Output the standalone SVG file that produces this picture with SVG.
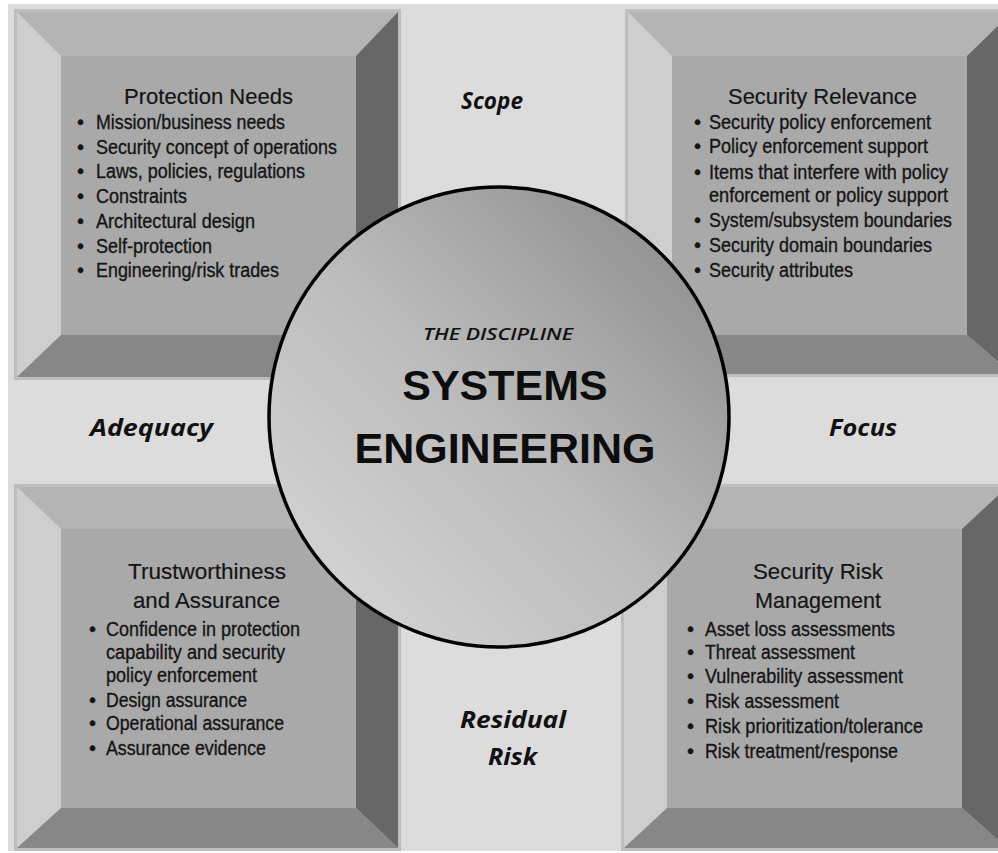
<svg xmlns="http://www.w3.org/2000/svg" width="998" height="853" viewBox="0 0 998 853">
<defs>
<linearGradient id="disc" x1="0" y1="1" x2="1" y2="0">
<stop offset="0" stop-color="#dadada"/>
<stop offset="0.5" stop-color="#bababa"/>
<stop offset="1" stop-color="#858585"/>
</linearGradient>
<style>
.rim{fill:#bdbdbd}
.bt{fill:#b4b4b4}
.bl{fill:#cecece}
.br{fill:#676767}
.bb{fill:#878787}
.face{fill:#a9a9a9}
.ttl{font-family:"Liberation Sans",Arial,sans-serif;font-size:22.5px;fill:#151515;stroke:#151515;stroke-width:0.2}
.itm{font-family:"Liberation Sans",Arial,sans-serif;font-size:20px;fill:#151515;stroke:#151515;stroke-width:0.35}
.lbl{font-family:"Open Sans","DejaVu Sans",sans-serif;font-style:italic;font-weight:700;font-size:24px;fill:#111}
.big{font-family:"Liberation Sans",Arial,sans-serif;font-weight:bold;font-size:43px;fill:#0d0d0d;text-anchor:middle}
.sub{font-family:"Open Sans","DejaVu Sans",sans-serif;font-style:italic;font-weight:600;font-size:17px;fill:#111}
</style>
</defs>
<rect x="0" y="0" width="998" height="853" fill="#ffffff"/>
<rect x="8" y="4" width="990" height="847" fill="#dcdcdc"/>

<g id="protection-needs">
<rect class="rim" x="14" y="9" width="387" height="371"/>
<polygon class="bt" points="17,12 398,12 356,56 61,56"/>
<polygon class="bl" points="17,12 61,56 61,335 17,377"/>
<polygon class="br" points="398,12 398,377 356,335 356,56"/>
<polygon class="bb" points="17,377 61,335 356,335 398,377"/>
<rect class="face" x="61" y="56" width="295" height="279"/>
<text class="ttl" x="124" y="104" textLength="169" lengthAdjust="spacingAndGlyphs">Protection Needs</text>
<g class="itm">
<text x="77" y="129">•</text><text x="96" y="129" textLength="189" lengthAdjust="spacingAndGlyphs">Mission/business needs</text>
<text x="77" y="154">•</text><text x="96" y="154" textLength="241" lengthAdjust="spacingAndGlyphs">Security concept of operations</text>
<text x="77" y="178">•</text><text x="96" y="178" textLength="209" lengthAdjust="spacingAndGlyphs">Laws, policies, regulations</text>
<text x="77" y="203">•</text><text x="96" y="203" textLength="91" lengthAdjust="spacingAndGlyphs">Constraints</text>
<text x="77" y="228">•</text><text x="96" y="228" textLength="159" lengthAdjust="spacingAndGlyphs">Architectural design</text>
<text x="77" y="253">•</text><text x="96" y="253" textLength="116" lengthAdjust="spacingAndGlyphs">Self-protection</text>
<text x="77" y="277">•</text><text x="96" y="277" textLength="183" lengthAdjust="spacingAndGlyphs">Engineering/risk trades</text>
</g>
</g>

<g id="security-relevance">
<rect class="rim" x="625" y="9" width="390" height="368"/>
<polygon class="bt" points="628,12 1012,12 967,56 672,56"/>
<polygon class="bl" points="628,12 672,56 672,335 628,374"/>
<polygon class="br" points="1012,12 1012,374 967,335 967,56"/>
<polygon class="bb" points="628,374 672,335 967,335 1012,374"/>
<rect class="face" x="672" y="56" width="295" height="279"/>
<text class="ttl" x="728" y="104" textLength="189" lengthAdjust="spacingAndGlyphs">Security Relevance</text>
<g class="itm">
<text x="694" y="129">•</text><text x="709" y="129" textLength="222" lengthAdjust="spacingAndGlyphs">Security policy enforcement</text>
<text x="694" y="153">•</text><text x="709" y="153" textLength="219" lengthAdjust="spacingAndGlyphs">Policy enforcement support</text>
<text x="694" y="179">•</text><text x="709" y="179" textLength="239" lengthAdjust="spacingAndGlyphs">Items that interfere with policy</text>
<text x="709" y="202" textLength="239" lengthAdjust="spacingAndGlyphs">enforcement or policy support</text>
<text x="694" y="227">•</text><text x="709" y="227" textLength="243" lengthAdjust="spacingAndGlyphs">System/subsystem boundaries</text>
<text x="694" y="252">•</text><text x="709" y="252" textLength="223" lengthAdjust="spacingAndGlyphs">Security domain boundaries</text>
<text x="694" y="277">•</text><text x="709" y="277" textLength="144" lengthAdjust="spacingAndGlyphs">Security attributes</text>
</g>
</g>

<g id="trustworthiness-assurance">
<rect class="rim" x="14" y="484" width="387" height="367"/>
<polygon class="bt" points="17,487 398,487 356,529 61,529"/>
<polygon class="bl" points="17,487 61,529 61,808 17,848"/>
<polygon class="br" points="398,487 398,848 356,808 356,529"/>
<polygon class="bb" points="17,848 61,808 356,808 398,848"/>
<rect class="face" x="61" y="529" width="295" height="279"/>
<text class="ttl" x="128" y="579" textLength="158" lengthAdjust="spacingAndGlyphs">Trustworthiness</text>
<text class="ttl" x="133" y="608" textLength="147" lengthAdjust="spacingAndGlyphs">and Assurance</text>
<g class="itm">
<text x="89" y="636">•</text><text x="106" y="636" textLength="194" lengthAdjust="spacingAndGlyphs">Confidence in protection</text>
<text x="106" y="659" textLength="179" lengthAdjust="spacingAndGlyphs">capability and security</text>
<text x="106" y="682" textLength="151" lengthAdjust="spacingAndGlyphs">policy enforcement</text>
<text x="89" y="707">•</text><text x="106" y="707" textLength="141" lengthAdjust="spacingAndGlyphs">Design assurance</text>
<text x="89" y="730">•</text><text x="106" y="730" textLength="178" lengthAdjust="spacingAndGlyphs">Operational assurance</text>
<text x="89" y="755">•</text><text x="106" y="755" textLength="160" lengthAdjust="spacingAndGlyphs">Assurance evidence</text>
</g>
</g>

<g id="security-risk-management">
<rect class="rim" x="621" y="484" width="390" height="367"/>
<polygon class="bt" points="624,487 1007,487 962,529 667,529"/>
<polygon class="bl" points="624,487 667,529 667,808 624,848"/>
<polygon class="br" points="1007,487 1007,848 962,808 962,529"/>
<polygon class="bb" points="624,848 667,808 962,808 1007,848"/>
<rect class="face" x="667" y="529" width="295" height="279"/>
<text class="ttl" x="753" y="579" textLength="130" lengthAdjust="spacingAndGlyphs">Security Risk</text>
<text class="ttl" x="755" y="608" textLength="126" lengthAdjust="spacingAndGlyphs">Management</text>
<g class="itm">
<text x="687" y="636">•</text><text x="705" y="636" textLength="190" lengthAdjust="spacingAndGlyphs">Asset loss assessments</text>
<text x="687" y="659">•</text><text x="705" y="659" textLength="150" lengthAdjust="spacingAndGlyphs">Threat assessment</text>
<text x="687" y="683">•</text><text x="705" y="683" textLength="198" lengthAdjust="spacingAndGlyphs">Vulnerability assessment</text>
<text x="687" y="708">•</text><text x="705" y="708" textLength="134" lengthAdjust="spacingAndGlyphs">Risk assessment</text>
<text x="687" y="733">•</text><text x="705" y="733" textLength="218" lengthAdjust="spacingAndGlyphs">Risk prioritization/tolerance</text>
<text x="687" y="758">•</text><text x="705" y="758" textLength="193" lengthAdjust="spacingAndGlyphs">Risk treatment/response</text>
</g>
</g>

<g id="systems-engineering">
<circle cx="499" cy="417" r="230" fill="url(#disc)" stroke="#000" stroke-width="3.5"/>
<text class="sub" x="423" y="340" textLength="150" lengthAdjust="spacingAndGlyphs">THE DISCIPLINE</text>
<text class="big" x="505" y="400">SYSTEMS</text>
<text class="big" x="505" y="463">ENGINEERING</text>
</g>

<g id="connectors">
<text class="lbl" x="461" y="109" textLength="62" lengthAdjust="spacingAndGlyphs">Scope</text>
<text class="lbl" x="90" y="436" textLength="123" lengthAdjust="spacingAndGlyphs">Adequacy</text>
<text class="lbl" x="829" y="436" textLength="68" lengthAdjust="spacingAndGlyphs">Focus</text>
<text class="lbl" x="460" y="728" textLength="106" lengthAdjust="spacingAndGlyphs">Residual</text>
<text class="lbl" x="488" y="765" textLength="49" lengthAdjust="spacingAndGlyphs">Risk</text>
</g>
</svg>
